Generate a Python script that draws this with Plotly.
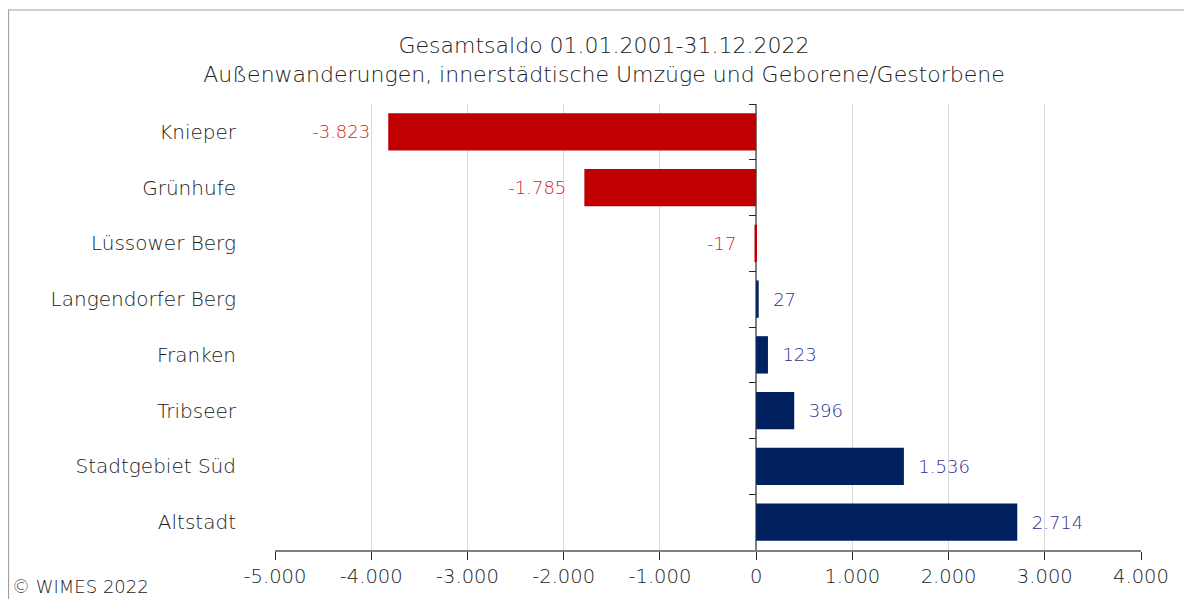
import plotly.graph_objects as go

categories = ["Knieper", "Grünhufe", "Lüssower Berg", "Langendorfer Berg",
              "Franken", "Tribseer", "Stadtgebiet Süd", "Altstadt"]
values = [-3823, -1785, -17, 27, 123, 396, 1536, 2714]
tick_vals = [-5000, -4000, -3000, -2000, -1000, 0, 1000, 2000, 3000, 4000]
tick_text = ["-5.000", "-4.000", "-3.000", "-2.000", "-1.000", "0",
             "1.000", "2.000", "3.000", "4.000"]
title_lines = ["Gesamtsaldo 01.01.2001-31.12.2022",
               "Außenwanderungen, innerstädtische Umzüge und Geborene/Gestorbene"]
source_text = "© WIMES 2022"

NEG_BAR, POS_BAR = "#C00000", "#002060"
NEG_TXT, POS_TXT = "#D82020", "#2E2E90"
FONT = "DejaVu Sans"
WEIGHT = 300
GREY = "#202020"

def fmt(v):
    s = f"{abs(v):,}".replace(",", ".")
    return ("-" + s) if v < 0 else s

labels = [(fmt(v) + "\u00a0\u00a0\u2009") if v < 0 else ("\u00a0\u00a0" + fmt(v)) for v in values]

# plot area in figure pixels
L, R, T, B = 267, 1133, 96, 542
W, H = 1192, 599

fig = go.Figure()
fig.add_trace(go.Bar(
    x=values, y=categories, orientation="h",
    marker=dict(color=[NEG_BAR if v < 0 else POS_BAR for v in values], line=dict(width=0)),
    text=labels, textposition="outside", cliponaxis=False,
    textfont=dict(family=FONT, size=18, weight=WEIGHT,
                  color=[NEG_TXT if v < 0 else POS_TXT for v in values]),
    hoverinfo="skip", showlegend=False,
))
fig.add_trace(go.Scatter(
    x=values, y=categories, yaxis="y2", mode="markers",
    marker=dict(opacity=0, size=1), hoverinfo="skip", showlegend=False,
))

n = len(categories)
xmin, xmax = tick_vals[0], tick_vals[-1]
pw, ph = R - L, B - T
fig.update_layout(
    width=W, height=H,
    margin=dict(l=L, r=W - R, t=T, b=H - B),
    paper_bgcolor="white", plot_bgcolor="white",
    bargap=0.33,
    title=dict(text="<br>".join(title_lines), x=0.5, xref="container", xanchor="center",
               y=1 - 45 / H, yref="container", yanchor="top",
               font=dict(family=FONT, size=22, weight=WEIGHT, color=GREY)),
    xaxis=dict(range=[xmin, xmax], tickvals=tick_vals, ticktext=tick_text,
               showgrid=True, gridcolor="#D9D9D9", gridwidth=1,
               zeroline=True, zerolinecolor="#808080", zerolinewidth=1.5,
               showline=True, linecolor="#808080", linewidth=1.5,
               ticks="outside", ticklen=8, tickcolor="#262626", tickwidth=1,
               tickfont=dict(family=FONT, size=19.5, weight=WEIGHT, color=GREY)),
    yaxis=dict(range=[n - 0.5, -0.5], type="category",
               showgrid=False, zeroline=False, showline=False, ticks="",
               ticklabelstandoff=38,
               tickfont=dict(family=FONT, size=20, weight=WEIGHT, color=GREY)),
    yaxis2=dict(range=[n - 0.5, -0.5], type="category", overlaying="y", anchor="free",
                position=(0 - xmin) / (xmax - xmin), side="left",
                showgrid=False, zeroline=False, showline=False, showticklabels=False,
                ticks="outside", tickson="boundaries", ticklen=7,
                tickcolor="#262626", tickwidth=1),
    shapes=[dict(type="rect", xref="paper", yref="paper",
                 x0=(0.5 - L) / pw, x1=1.2, y0=-0.3, y1=(B - 2) / ph,
                 line=dict(color="#A0A0A0", width=1.2), fillcolor="rgba(0,0,0,0)", layer="below")],
    annotations=[dict(text=source_text, xref="paper", yref="paper",
                      x=(2 - L) / pw, y=(B - 591) / ph, xanchor="left", yanchor="bottom",
                      showarrow=False, font=dict(family=FONT, size=18, weight=WEIGHT, color=GREY))],
)

fig.write_html("out.html")
